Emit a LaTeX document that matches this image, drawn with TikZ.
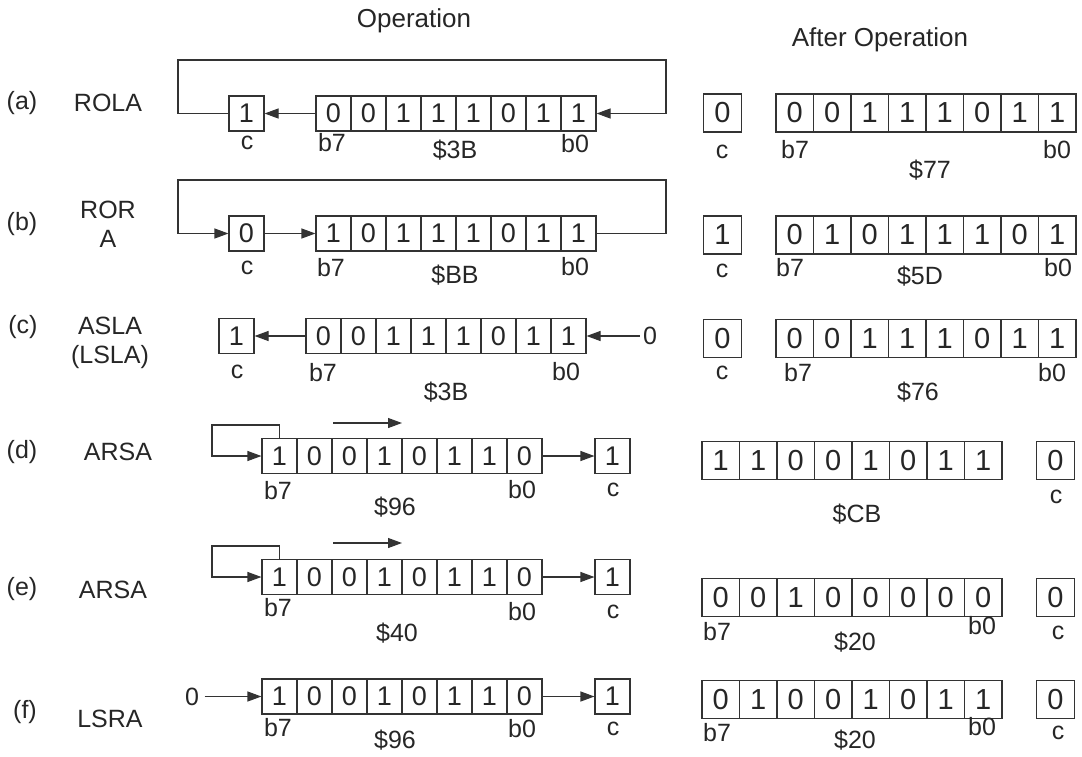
\documentclass[tikz,border=0pt]{standalone}
\usepackage{fontspec}
\setmainfont{Liberation Sans}
\usetikzlibrary{arrows.meta}

\begin{document}
\begin{tikzpicture}[
    x=1pt, y=-1pt,
    line width=1.1pt,
    every node/.style={font=\fontsize{25}{28}\selectfont, text=black!85},
    lcell/.style={
        rectangle,
        draw=black!80,
        inner sep=0pt,
        minimum width=35pt,
        minimum height=35pt,
        font=\fontsize{27}{30}\selectfont
    },
    rcell/.style={
        rectangle,
        draw=black!80,
        inner sep=0pt,
        minimum width=37.5pt,
        minimum height=38pt,
        font=\fontsize{29}{32}\selectfont
    },
    title/.style={font=\fontsize{26}{29}\selectfont},
    oplabel/.style={font=\fontsize{25}{29}\selectfont, align=center},
    arrow/.style={-{Triangle[length=14pt,width=10pt]}, draw=black!80},
    line/.style={draw=black!80}
]
\useasboundingbox (0,0) rectangle (1082,756);

% Headings
\node[title] (operation) at (414,21) {Operation};
\node[title] (after) at (880,40) {After Operation};

% (a) ROLA
\node[oplabel] (taga) at (22,103) {(a)};
\node[oplabel] (opa) at (108,103) {ROLA};
\node[lcell] (ca) at (246.5,113.5) {1};
\foreach \b [count=\i] in {0,0,1,1,1,0,1,1}
    \node[lcell] (ra\i) at ({298.5+35*\i},113.5) {\b};
\coordinate (la1) at (178,60);
\coordinate (la2) at (666,60);
\draw[arrow] (ra1.west) -- (ca.east);
\draw[arrow] (ca.west) -| (la1) -- (la2) |- (ra8.east);
\node (lca) at (247,143) {c};
\node (b7a) at (332,143) {b7};
\node (hexa) at (455,150) {\$3B};
\node (b0a) at (575,144) {b0};

\node[rcell] (cra) at (722.5,113) {0};
\foreach \b [count=\i] in {0,0,1,1,1,0,1,1}
    \node[rcell] (sa\i) at ({757.25+37.5*\i},113) {\b};
\node (lcra) at (722,152) {c};
\node (b7ra) at (795,150) {b7};
\node (hexra) at (930,170) {\$77};
\node (b0ra) at (1057,150) {b0};

% (b) ROR A
\node[oplabel] (tagb) at (22,224) {(b)};
\node[oplabel] (opb) at (108,224) {ROR\\A};
\node[lcell] (cb) at (246.5,233.5) {0};
\foreach \b [count=\i] in {1,0,1,1,1,0,1,1}
    \node[lcell] (rb\i) at ({298.5+35*\i},233.5) {\b};
\coordinate (lb1) at (178,180);
\coordinate (lb2) at (666,180);
\draw[arrow] (cb.east) -- (rb1.west);
\draw[arrow] (rb8.east) -| (lb2) -- (lb1) |- (cb.west);
\node (lcb) at (247,268) {c};
\node (b7b) at (331,268) {b7};
\node (hexb) at (455,275) {\$BB};
\node (b0b) at (575,267) {b0};

\node[rcell] (crb) at (722.5,235) {1};
\foreach \b [count=\i] in {0,1,0,1,1,1,0,1}
    \node[rcell] (sb\i) at ({757.25+37.5*\i},235) {\b};
\node (lcrb) at (722,271) {c};
\node (b7rb) at (790,268) {b7};
\node (hexrb) at (920,276) {\$5D};
\node (b0rb) at (1058,268) {b0};

% (c) ASLA (LSLA)
\node[oplabel] (tagc) at (23,327) {(c)};
\node[oplabel] (opc) at (110,343) {ASLA\\(LSLA)};
\node[lcell] (cc) at (236.5,336) {1};
\foreach \b [count=\i] in {0,0,1,1,1,0,1,1}
    \node[lcell] (rc\i) at ({288.5+35*\i},336) {\b};
\node[inner sep=3pt] (zc) at (650,336) {0};
\draw[arrow] (rc1.west) -- (cc.east);
\draw[arrow] (zc) -- (rc8.east);
\node (lcc) at (237,372) {c};
\node (b7c) at (323,373) {b7};
\node (hexc) at (446,392) {\$3B};
\node (b0c) at (566,372) {b0};

\node[rcell] (crc) at (722.5,338.5) {0};
\foreach \b [count=\i] in {0,0,1,1,1,0,1,1}
    \node[rcell] (sc\i) at ({757.25+37.5*\i},338.5) {\b};
\node (lcrc) at (722,373) {c};
\node (b7rc) at (798,373) {b7};
\node (hexrc) at (918,392) {\$76};
\node (b0rc) at (1052,373) {b0};

% (d) ARSA
\node[oplabel] (tagd) at (22,452) {(d)};
\node[oplabel] (opd) at (118,452) {ARSA};
\foreach \b [count=\i] in {1,0,0,1,0,1,1,0}
    \node[lcell] (rd\i) at ({244.5+35*\i},456) {\b};
\node[lcell] (cd) at (612.5,456) {1};
\coordinate (ld) at (212,425);
\coordinate (sd1) at (333,423);
\coordinate (sd2) at (402,423);
\draw[arrow] (rd1.north) |- (ld) |- (rd1.west);
\draw[arrow] (sd1) -- (sd2);
\draw[arrow] (rd8.east) -- (cd.west);
\node (b7d) at (278,491) {b7};
\node (hexd) at (395,507) {\$96};
\node (b0d) at (522,490) {b0};
\node (lcd) at (613,490) {c};

\foreach \b [count=\i] in {1,1,0,0,1,0,1,1}
    \node[rcell] (sd\i) at ({683.25+37.5*\i},460.5) {\b};
\node[rcell] (crd) at (1055.5,460.5) {0};
\node (hexrd) at (857,514) {\$CB};
\node (lcrd) at (1056,497) {c};

% (e) ARSA
\node[oplabel] (tage) at (22,589) {(e)};
\node[oplabel] (ope) at (113,590) {ARSA};
\foreach \b [count=\i] in {1,0,0,1,0,1,1,0}
    \node[lcell] (re\i) at ({244.5+35*\i},577) {\b};
\node[lcell] (ce) at (612.5,577) {1};
\coordinate (le) at (212,546);
\coordinate (se1) at (333,543);
\coordinate (se2) at (402,543);
\draw[arrow] (re1.north) |- (le) |- (re1.west);
\draw[arrow] (se1) -- (se2);
\draw[arrow] (re8.east) -- (ce.west);
\node (b7e) at (278,608) {b7};
\node (hexe) at (397,633) {\$40};
\node (b0e) at (522,612) {b0};
\node (lce) at (613,612) {c};

\foreach \b [count=\i] in {0,0,1,0,0,0,0,0}
    \node[rcell] (se\i) at ({683.25+37.5*\i},597.5) {\b};
\node[rcell] (cre) at (1055.5,597.5) {0};
\node (b7re) at (717,632) {b7};
\node (hexre) at (855,642) {\$20};
\node (b0re) at (982,626) {b0};
\node (lcre) at (1058,633) {c};

% (f) LSRA
\node[oplabel] (tagf) at (25,712) {(f)};
\node[oplabel] (opf) at (110,719) {LSRA};
\node[inner sep=5pt] (zf) at (192,696.5) {0};
\foreach \b [count=\i] in {1,0,0,1,0,1,1,0}
    \node[lcell] (rf\i) at ({244.5+35*\i},696.5) {\b};
\node[lcell] (cf) at (612.5,696.5) {1};
\draw[arrow] (zf) -- (rf1.west);
\draw[arrow] (rf8.east) -- (cf.west);
\node (b7f) at (278,728) {b7};
\node (hexf) at (395,740) {\$96};
\node (b0f) at (522,729) {b0};
\node (lcf) at (613,729) {c};

\foreach \b [count=\i] in {0,1,0,0,1,0,1,1}
    \node[rcell] (sf\i) at ({683.25+37.5*\i},699.5) {\b};
\node[rcell] (crf) at (1055.5,699.5) {0};
\node (b7rf) at (717,733) {b7};
\node (hexrf) at (855,740) {\$20};
\node (b0rf) at (982,727) {b0};
\node (lcrf) at (1058,733) {c};

\end{tikzpicture}
\end{document}
